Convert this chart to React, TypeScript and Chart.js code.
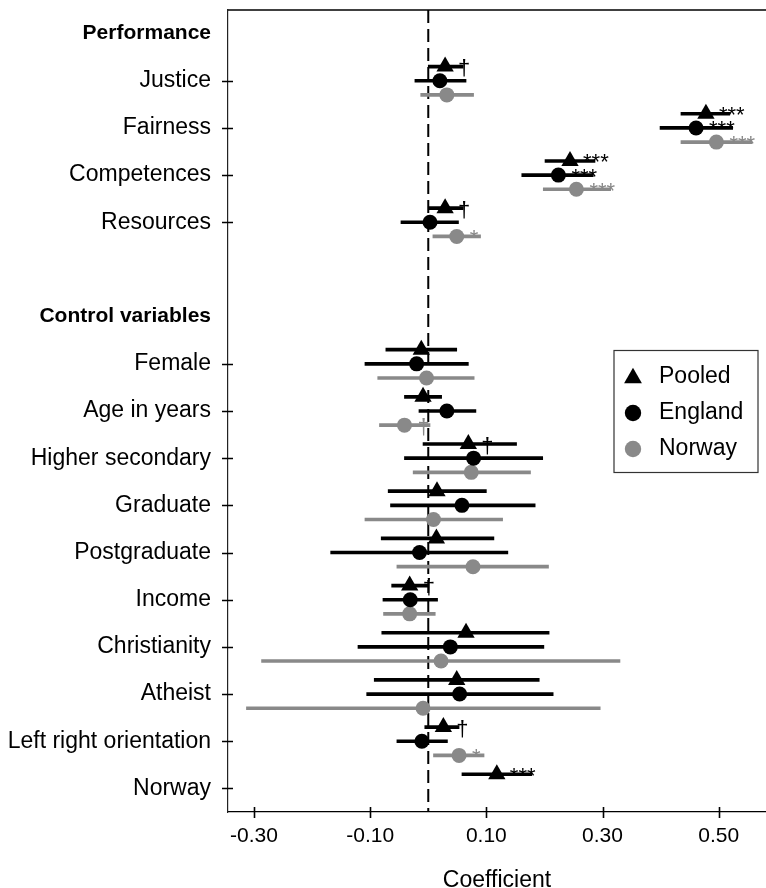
import React, { useEffect, useRef } from 'react';
import { Chart, registerables } from 'chart.js';

Chart.register(...registerables);

// ---- data ----
const rowLabels = [
  'Performance', 'Justice', 'Fairness', 'Competences', 'Resources', '',
  'Control variables', 'Female', 'Age in years', 'Higher secondary', 'Graduate',
  'Postgraduate', 'Income', 'Christianity', 'Atheist', 'Left right orientation', 'Norway',
];
const headerRows = [0, 6];
const blankRows = [5];
const xTickValues = [-0.3, -0.1, 0.1, 0.3, 0.5];
const seriesNames = ['Pooled', 'England', 'Norway'];

const pooledEst = [null, 0.029, 0.478, 0.244, 0.029, null, null, -0.012, -0.009, 0.069, 0.015, 0.014, -0.032, 0.065, 0.049, 0.026, 0.118];
const pooledLo = [null, 0.0, 0.435, 0.201, 0.0, null, null, -0.073, -0.041, -0.009, -0.069, -0.081, -0.063, -0.080, -0.093, -0.006, 0.058];
const pooledHi = [null, 0.060, 0.519, 0.287, 0.060, null, null, 0.049, 0.023, 0.152, 0.100, 0.113, 0.000, 0.208, 0.191, 0.053, 0.178];
const pooledSig = ['', '†', '***', '***', '†', '', '', '', '', '†', '', '', '†', '', '', '†', '***'];

const englandEst = [null, 0.020, 0.461, 0.224, 0.003, null, null, -0.020, 0.032, 0.078, 0.058, -0.015, -0.031, 0.038, 0.054, -0.011, null];
const englandLo = [null, -0.023, 0.399, 0.161, -0.047, null, null, -0.109, -0.016, -0.041, -0.065, -0.168, -0.078, -0.121, -0.106, -0.054, null];
const englandHi = [null, 0.065, 0.524, 0.284, 0.052, null, null, 0.069, 0.082, 0.197, 0.184, 0.137, 0.016, 0.199, 0.215, 0.033, null];
const englandSig = ['', '', '***', '***', '', '', '', '', '', '', '', '', '', '', '', '', ''];

const norwayEst = [null, 0.032, 0.496, 0.255, 0.049, null, null, -0.003, -0.041, 0.074, 0.009, 0.077, -0.032, 0.022, -0.009, 0.053, null];
const norwayLo = [null, -0.013, 0.435, 0.198, 0.008, null, null, -0.087, -0.084, -0.026, -0.109, -0.054, -0.077, -0.287, -0.313, 0.009, null];
const norwayHi = [null, 0.078, 0.557, 0.314, 0.090, null, null, 0.079, 0.003, 0.176, 0.128, 0.207, 0.012, 0.330, 0.296, 0.096, null];
const norwaySig = ['', '', '***', '***', '*', '', '', '', '†', '', '', '', '', '', '', '*', ''];

// ---- style ----
const FONT = '"Liberation Sans", Arial, Helvetica, sans-serif';
const BLACK = '#000000';
const GREY = '#898989';
const X_MIN = -0.34476;
const X_MAX = 0.5814;

const series = [
  { name: seriesNames[0], est: pooledEst, lo: pooledLo, hi: pooledHi, sig: pooledSig, color: BLACK, style: 'triangle', radius: 10, offset: -0.3 },
  { name: seriesNames[1], est: englandEst, lo: englandLo, hi: englandHi, sig: englandSig, color: BLACK, style: 'circle', radius: 7.5, offset: 0 },
  { name: seriesNames[2], est: norwayEst, lo: norwayLo, hi: norwayHi, sig: norwaySig, color: GREY, style: 'circle', radius: 7.5, offset: 0.3 },
];

const isMarked = (v: number) => !headerRows.includes(v) && !blankRows.includes(v);

const decor = {
  id: 'decor',
  beforeDatasetsDraw(chart: any) {
    const { ctx, chartArea, scales } = chart;
    const x0 = scales.x.getPixelForValue(0);
    ctx.save();
    ctx.strokeStyle = BLACK;
    ctx.lineWidth = 2;
    ctx.setLineDash([13, 6]);
    ctx.beginPath();
    ctx.moveTo(x0, chartArea.top);
    ctx.lineTo(x0, chartArea.bottom);
    ctx.stroke();
    ctx.restore();
  },
  afterDatasetsDraw(chart: any) {
    const { ctx, scales } = chart;
    ctx.save();
    ctx.font = `22px ${FONT}`;
    ctx.textAlign = 'left';
    ctx.textBaseline = 'alphabetic';
    series.forEach((s) => {
      s.est.forEach((v, i) => {
        if (v == null || !s.sig[i]) return;
        const px = scales.x.getPixelForValue(v);
        const py = scales.y.getPixelForValue(i + s.offset);
        ctx.fillStyle = s.color;
        ctx.fillText(s.sig[i], px + 13, py + 8.5);
      });
    });
    ctx.restore();
  },
  afterDraw(chart: any) {
    const { ctx, chartArea, scales } = chart;
    ctx.save();
    // top frame line
    ctx.strokeStyle = BLACK;
    ctx.lineWidth = 1.5;
    ctx.beginPath();
    ctx.moveTo(chartArea.left, chartArea.top);
    ctx.lineTo(chartArea.right, chartArea.top);
    ctx.stroke();
    // tick marks crossing the axes
    ctx.lineWidth = 1.6;
    ctx.beginPath();
    rowLabels.forEach((_, i) => {
      if (!isMarked(i)) return;
      const py = Math.round(scales.y.getPixelForValue(i)) + 0.5;
      ctx.moveTo(chartArea.left - 6, py);
      ctx.lineTo(chartArea.left + 5, py);
    });
    xTickValues.forEach((v) => {
      const px = Math.round(scales.x.getPixelForValue(v)) + 0.5;
      ctx.moveTo(px, chartArea.bottom + 6);
      ctx.lineTo(px, chartArea.bottom - 5);
    });
    ctx.stroke();

    // legend box
    const bx = chartArea.right - 152;
    const by = 350.5;
    const bw = 144;
    const bh = 122;
    ctx.fillStyle = '#ffffff';
    ctx.fillRect(bx, by, bw, bh);
    ctx.strokeStyle = '#333333';
    ctx.lineWidth = 1.2;
    ctx.strokeRect(bx, by, bw, bh);
    const rowsY = [377, 413, 449];
    series.forEach((s, k) => {
      const cx = bx + 19;
      const cy = rowsY[k];
      ctx.fillStyle = s.color;
      ctx.beginPath();
      if (s.style === 'triangle') {
        const r = 10.3;
        ctx.moveTo(cx, cy - r + 1);
        ctx.lineTo(cx + r * Math.sin((2 * Math.PI) / 3), cy + 1 - r * Math.cos((2 * Math.PI) / 3));
        ctx.lineTo(cx + r * Math.sin((4 * Math.PI) / 3), cy + 1 - r * Math.cos((4 * Math.PI) / 3));
        ctx.closePath();
      } else {
        ctx.arc(cx, cy, 8.2, 0, Math.PI * 2);
      }
      ctx.fill();
      ctx.fillStyle = BLACK;
      ctx.font = `23px ${FONT}`;
      ctx.textAlign = 'left';
      ctx.textBaseline = 'middle';
      ctx.fillText(s.name, bx + 45, cy);
    });
    ctx.restore();
  },
};

export default function App() {
  const ref = useRef<HTMLCanvasElement>(null);

  useEffect(() => {
    const canvas = ref.current;
    if (!canvas) return;

    const barSets = series.map((s) => ({
      type: 'bar' as const,
      label: s.name + ' CI',
      indexAxis: 'y' as const,
      data: s.est
        .map((v, i) => (v == null ? null : { y: i + s.offset, x: [s.lo[i], s.hi[i]] }))
        .filter((d) => d !== null),
      backgroundColor: s.color,
      borderWidth: 0,
      barThickness: 3,
      grouped: false,
      order: 2,
    }));
    const pointSets = series.map((s) => ({
      type: 'scatter' as const,
      label: s.name,
      data: s.est
        .map((v, i) => (v == null ? null : { x: v, y: i + s.offset }))
        .filter((d) => d !== null),
      pointStyle: s.style,
      pointRadius: s.radius,
      pointHoverRadius: s.radius,
      backgroundColor: s.color,
      borderColor: s.color,
      borderWidth: 0,
      order: 1,
    }));

    const chart = new Chart(canvas, {
      type: 'scatter',
      data: { datasets: [...barSets, ...pointSets] as any },
      options: {
        responsive: false,
        animation: false,
        events: [],
        layout: { autoPadding: false, padding: { top: 10, left: 0, right: 0, bottom: 0 } },
        plugins: {
          legend: { display: false },
          tooltip: { enabled: false },
        },
        scales: {
          x: {
            type: 'linear',
            position: 'bottom',
            offset: false,
            min: X_MIN,
            max: X_MAX,
            afterBuildTicks: (s: any) => {
              s.ticks = xTickValues.map((v) => ({ value: v }));
            },
            afterFit: (s: any) => {
              s.height = 88;
              s.paddingLeft = 0;
              s.paddingRight = 0;
            },
            ticks: {
              autoSkip: false,
              maxRotation: 0,
              padding: 6,
              color: BLACK,
              font: { family: FONT, size: 21 },
              callback: (v: any) => Number(v).toFixed(2),
            },
            grid: { offset: false, drawOnChartArea: false, drawTicks: true, tickLength: 6, tickWidth: 1.5, tickColor: 'rgba(0,0,0,0)' },
            border: { display: true, color: BLACK, width: 1.2 },
            title: {
              display: true,
              text: 'Coefficient',
              color: BLACK,
              font: { family: FONT, size: 23 },
              padding: { top: 0, bottom: 6 },
            },
          },
          y: {
            type: 'linear',
            position: 'left',
            offset: false,
            reverse: true,
            min: -0.5,
            max: rowLabels.length - 0.5,
            afterBuildTicks: (s: any) => {
              s.ticks = rowLabels.map((_, i) => ({ value: i }));
            },
            afterFit: (s: any) => {
              s.width = 228;
              s.paddingTop = 0;
              s.paddingBottom = 0;
            },
            ticks: {
              autoSkip: false,
              padding: 11,
              color: BLACK,
              font: (c: any) =>
                c.tick && headerRows.includes(c.tick.value)
                  ? { family: FONT, size: 21, weight: 'bold' }
                  : { family: FONT, size: 23 },
              callback: (v: any) => rowLabels[v] ?? '',
            },
            grid: {
              offset: false,
              drawOnChartArea: false,
              drawTicks: true,
              tickLength: 6,
              tickWidth: 1.5,
              tickColor: 'rgba(0,0,0,0)',
            },
            border: { display: true, color: '#222222', width: 1.2 },
          },
        },
      } as any,
      plugins: [decor],
    });

    return () => chart.destroy();
  }, []);

  return (
    <div style={{ position: 'absolute', left: 0, top: 0, width: 766, height: 888, overflow: 'hidden', background: '#ffffff' }}>
      <canvas ref={ref} width={766} height={900} style={{ display: 'block', width: 766, height: 900 }} />
    </div>
  );
}
